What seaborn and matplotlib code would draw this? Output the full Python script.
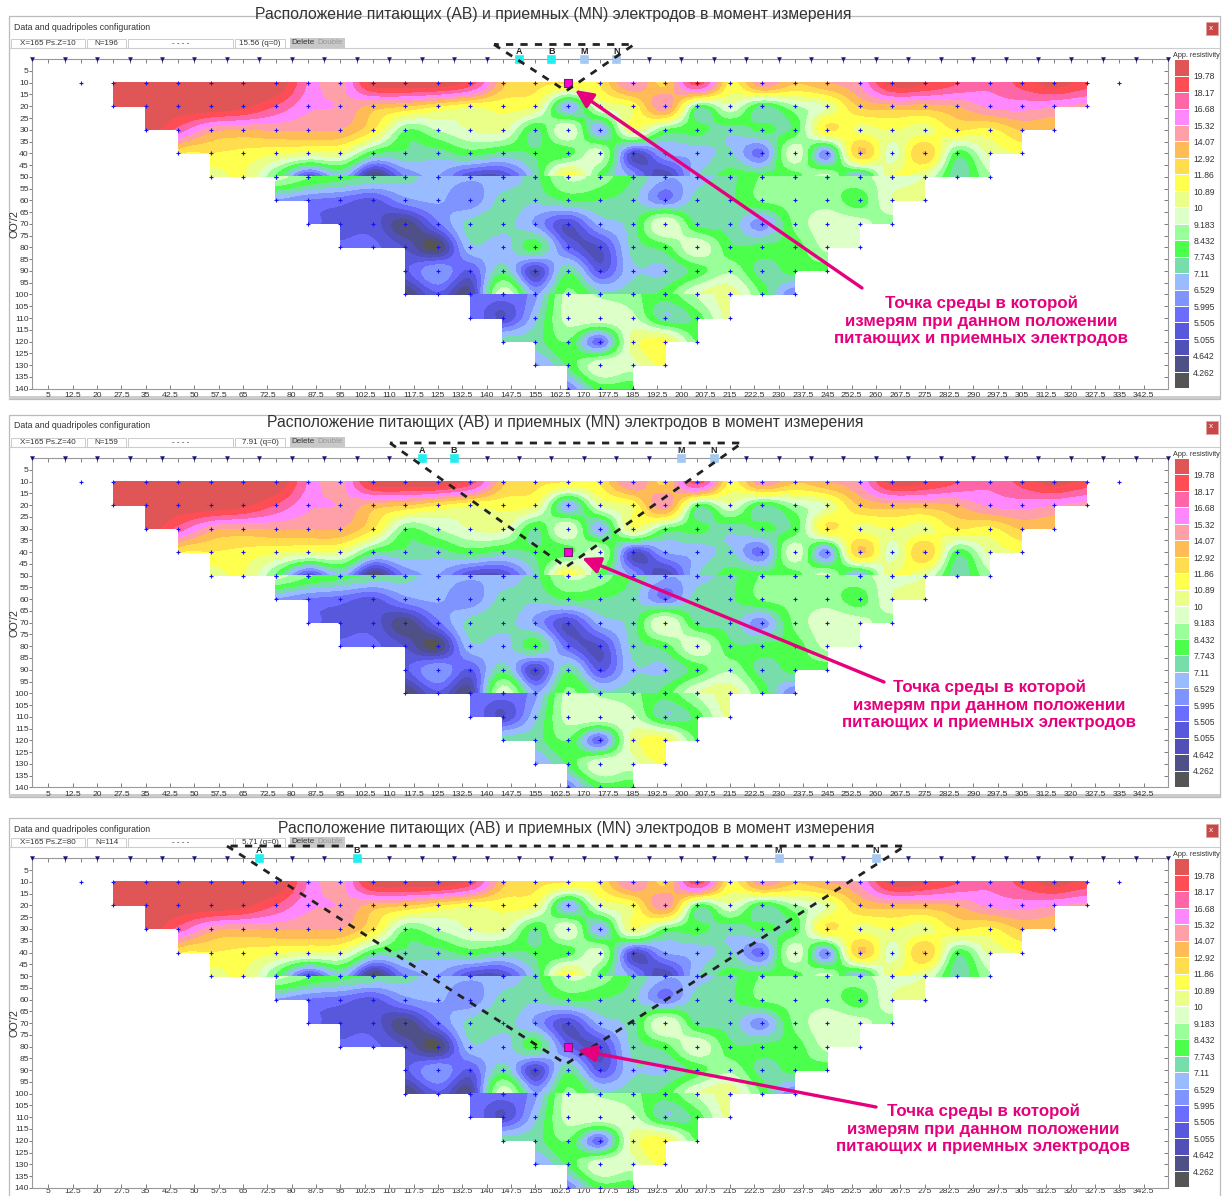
"""
Three pseudosection views with the same resistivity data and different electrode positions
"""
import numpy as np
import pandas as pd
import matplotlib
matplotlib.use('Agg')
import matplotlib.pyplot as plt
from matplotlib.colors import ListedColormap
from matplotlib.patches import Rectangle
import seaborn as sns

W, H = 1223, 1196

# contour classes
LEVELS = [4.262, 4.642, 5.055, 5.505, 5.995, 6.529, 7.11, 7.743, 8.432, 9.183, 10,
          10.89, 11.86, 12.92, 14.07, 15.32, 16.68, 18.17, 19.78]
LEVEL_LABELS = ['4.262', '4.642', '5.055', '5.505', '5.995', '6.529', '7.11', '7.743', '8.432',
                '9.183', '10', '10.89', '11.86', '12.92', '14.07', '15.32', '16.68', '18.17', '19.78']
COLORS = ['#555555', '#505088', '#5050B8', '#5858DC', '#6C6CFF', '#8094FF', '#99BBFF', '#77DDAA',
          '#4DFF4D', '#99FF99', '#DDFFC8', '#EAFF88', '#FFFF4D', '#FFDD4D', '#FFBB55', '#FFA0A8',
          '#FF88FF', '#FF66A8', '#FF4D55', '#E05555']

# apparent resistivity by depth, left to right, x step 10
R10 = [22, 22, 22, 22, 22, 21.5, 16.5, 14.7, 20.5, 21, 21, 19, 13.2, 12.2, 11.9, 12, 15.5, 12.5, 19,
       11.5, 15, 13, 14, 15.3, 20.5, 20, 18.3, 17, 18.7, 20.5, 19]
R20 = [21, 21, 21, 21, 20.2, 18, 15.6, 15.2, 13.5, 12.9, 11.8, 11, 11.2, 10.8, 6.5, 10, 11, 14.8, 8,
       9.8, 7.5, 9, 10, 13, 13.5, 13.5, 14, 15.5, 15.8, 15.3, 14.8]
R30 = [21, 17.5, 14.5, 14, 14.2, 14.1, 14, 11.9, 8.4, 9.2, 10, 10.2, 7.6, 10, 6.5, 10.7, 8.2, 8, 7.3,
       7.9, 7.9, 11.9, 10.6, 10.9, 10.5, 11.9, 11.5, 13, 13]
R40 = [12, 11.8, 11.5, 11, 10.5, 10.4, 7.8, 7.6, 7.4, 8, 7.5, 7.8, 8, 9.5, 5, 6.5, 6.7, 7.2, 5.8, 9.8, 6,
       13, 9.5, 13, 8, 10.2, 11]
R50_UP = [10.5, 10.9, 8.2, 5, 6.8, 4, 6, 6.5, 5, 5, 7.2, 11.5, 8, 6.3, 4.6, 7, 8, 8, 8, 9.5, 6.3, 10.9,
          10, 7.3, 9]
R50_LOW = [9.5, 8.5, 8, 7.6, 7.3, 6.8, 6.6, 6.7, 7.5, 9.3, 8.8, 7.7, 6.6, 6.8, 7.5, 8.5, 8.6, 8.6, 9,
           9.5, 10]
R60 = [6.4, 5.9, 5.7, 5.3, 6.3, 6.6, 6.1, 7.3, 7.2, 7.8, 7.7, 7.3, 5.9, 7.4, 7.6, 8.5, 8.7, 8.9, 8, 10,
       10.2]
R70 = [5.6, 5.4, 5.3, 4.3, 5.8, 7.3, 7.4, 6.4, 5, 6.7, 7.4, 10, 7.5, 7.5, 6.2, 8.6, 9.6, 9.5, 8.7]
R80 = [5.55, 5.6, 5, 4.1, 6.9, 6.7, 8, 5.6, 5, 7.3, 8, 9.8, 7.9, 7.9, 8, 9.4, 9.4]
R90 = [5.4, 6.5, 5.4, 7.5, 4.8, 7.6, 5.3, 7, 7, 8, 9, 7.4, 8, 7.9]
R100_UP = [4.1, 5.4, 4.4, 9.8, 6.5, 8.6, 7.3, 7.4, 8, 10, 10.5, 8.2, 5.9]
R100_LOW = [6, 5.7, 6.3, 9.5, 9, 8.6, 8, 9.3, 10.5]
R110 = [6, 5, 6.9, 9.5, 9.8, 9.4, 7.2, 8, 10.3]
R120 = [7.4, 7.4, 8.4, 5.6, 10.3, 11.2, 8.3]
R130 = [6.4, 7.8, 9.8, 9.6, 11.1]
R140 = [6, 8, 8]

# (depth, first x, values) for each of the three measurement blocks
BLOCKS = [
    [(10, 25, R10), (20, 25, R20), (30, 35, R30), (40, 45, R40), (50, 55, R50_UP)],
    [(50, 75, R50_LOW), (60, 75, R60), (70, 85, R70), (80, 95, R80), (90, 115, R90), (100, 115, R100_UP)],
    [(100, 135, R100_LOW), (110, 135, R110), (120, 145, R120), (130, 155, R130), (140, 165, R140)],
]
EXTRA_POINTS_X = [15, 335]

X_TICKS = [5 + 7.5 * i for i in range(46)]
Y_TICKS = list(range(5, 141, 5))
ELECTRODES_X = list(range(0, 351, 10))
FINE = 6

# every window: status texts, electrodes and the overlay layout in pixels
PANELS = [
    dict(top=59.2, frame=(16, 399), x_pad=2.5, status=('X=165 Ps.Z=10', 'N=196', '15.56 (q=0)'),
         title=(553, 14), z=10, ab=(150, 160), mn=(170, 180),
         dash=(494, 634, 44.5, 91), arrow=((862, 288), (575, 90)), note=(981, 321)),
    dict(top=458.0, frame=(415, 797), x_pad=2.5, status=('X=165 Ps.Z=40', 'N=159', '7.91 (q=0)'),
         title=(565, 423), z=40, ab=(120, 130), mn=(200, 210),
         dash=(390, 742, 443, 567), arrow=((884, 682), (582, 558)), note=(989, 705)),
    dict(top=858.4, frame=(818, 1200), x_pad=0, status=('X=165 Ps.Z=80', 'N=114', '5.71 (q=0)'),
         title=(576, 829), z=80, ab=(70, 100), mn=(230, 260),
         dash=(227, 905, 846, 1064), arrow=((876, 1107), (578, 1050)), note=(983, 1129)),
]
TITLE = 'Расположение питающих (АВ) и приемных (MN) электродов в момент измерения'
NOTE = 'Точка среды в которой\nизмерям при данном положении\nпитающих и приемных электродов'
MAGENTA = '#E6007E'
GRID_BLUE = '#1212FF'
TEXT_GRAY = '#333333'

sns.set_theme(style='white')
plt.rcParams['font.family'] = ['Liberation Sans', 'DejaVu Sans']


def block_grid(block):
    """Put one block of rows on a regular grid, nan where nothing was measured"""
    xs = np.arange(25, 326, 10)
    depths = np.array([row[0] for row in block], dtype=float)
    grid = np.full((len(block), len(xs)), np.nan)
    for i, (_, first_x, values) in enumerate(block):
        start = (first_x - 25) // 10
        grid[i, start:start + len(values)] = values
    return xs.astype(float), depths, grid


def pad_missing(grid):
    """Extend values over unmeasured nodes, only so the smoothing kernel has neighbours"""
    filled = grid.copy()
    while np.isnan(filled).any():
        stack = np.stack([np.pad(filled, 1, constant_values=np.nan)[1 + dy:1 + dy + filled.shape[0],
                                                                    1 + dx:1 + dx + filled.shape[1]]
                          for dy, dx in ((0, 1), (0, -1), (1, 0), (-1, 0))])
        count = np.sum(~np.isnan(stack), axis=0)
        total = np.nansum(stack, axis=0)
        fresh = np.isnan(filled) & (count > 0)
        filled[fresh] = total[fresh] / count[fresh]
    return filled


def smooth_1d(values, factor):
    """Catmull-Rom curve through the values, it passes through each of them"""
    n = len(values)
    pos = np.linspace(0, n - 1, (n - 1) * factor + 1)
    i = np.clip(np.floor(pos).astype(int), 0, n - 2)
    t = pos - i
    p0 = values[np.clip(i - 1, 0, n - 1)]
    p1 = values[i]
    p2 = values[i + 1]
    p3 = values[np.clip(i + 2, 0, n - 1)]
    return 0.5 * (2 * p1 + (p2 - p0) * t + (2 * p0 - 5 * p1 + 4 * p2 - p3) * t ** 2
                  + (3 * p1 - p0 - 3 * p2 + p3) * t ** 3)


def fine_surface(block):
    """Surface for the contour drawing, the same staircase outline as the measured cells"""
    xs, depths, grid = block_grid(block)
    filled = pad_missing(grid)
    fine = np.apply_along_axis(smooth_1d, 1, filled, FINE)
    fine = np.apply_along_axis(smooth_1d, 0, fine, FINE)
    fine_x = np.linspace(xs[0], xs[-1], (len(xs) - 1) * FINE + 1)
    fine_z = np.linspace(depths[0], depths[-1], (len(depths) - 1) * FINE + 1)
    keep = np.zeros_like(fine, dtype=bool)
    for r in range(grid.shape[0] - 1):
        for c in range(grid.shape[1] - 1):
            if not np.isnan(grid[r:r + 2, c:c + 2]).any():
                keep[r * FINE:(r + 1) * FINE + 1, c * FINE:(c + 1) * FINE + 1] = True
    return fine_x, fine_z, np.ma.array(fine, mask=~keep)


def points_table():
    rows = [(first_x + 10 * i, depth) for block in BLOCKS
            for depth, first_x, values in block for i in range(len(values))]
    rows += [(x, 10) for x in EXTRA_POINTS_X]
    return pd.DataFrame(rows, columns=['x', 'z'])


def add_px_axes(fig, left, top, right, bottom):
    return fig.add_axes([left / W, 1 - bottom / H, (right - left) / W, (bottom - top) / H])


SURFACES = [fine_surface(block) for block in BLOCKS]


def draw_section(fig, panel):
    top = panel['top']
    ax = add_px_axes(fig, 32.2, top, 1168.0, top + 329.4)
    levels = [0] + LEVELS + [100]
    for fine_x, fine_z, fine in SURFACES:
        ax.contourf(fine_x, fine_z, fine, levels=levels, colors=COLORS, corner_mask=False)

    sns.scatterplot(data=points_table(), x='x', y='z', marker='+', s=9, color=GRID_BLUE,
                    linewidth=0.8, ax=ax, legend=False, zorder=4)
    electrodes = pd.DataFrame({'x': ELECTRODES_X, 'z': 0})
    sns.scatterplot(data=electrodes, x='x', y='z', marker='v', s=9, color='#10107A',
                    edgecolor='#10107A', ax=ax, legend=False, clip_on=False, zorder=5)

    for xs, color in ((panel['ab'], '#22EEEE'), (panel['mn'], '#A4C8F0')):
        sns.scatterplot(x=list(xs), y=[0, 0], marker='s', s=30, color=color, edgecolor=color,
                        ax=ax, legend=False, clip_on=False, zorder=6)
    for x, name in zip(panel['ab'] + panel['mn'], 'ABMN'):
        ax.text(x, -3.2, name, ha='center', va='center', fontsize=6.5, color='#222222', fontweight='bold')
    sns.scatterplot(x=[165], y=[panel['z']], marker='s', s=30, color='#FF00D0', edgecolor='#702070',
                    linewidth=0.8, ax=ax, legend=False, zorder=7)

    ax.set_xlim(0, 350)
    ax.set_ylim(140, 0)
    ax.set_xticks(X_TICKS)
    ax.set_xticklabels([f'{t:g}' for t in X_TICKS])
    ax.set_yticks(Y_TICKS)
    ax.set_yticklabels([str(t) for t in Y_TICKS])
    ax.tick_params(axis='x', bottom=True, direction='in', length=3, width=0.6, color='#666666',
                   labelsize=6.1, labelcolor=TEXT_GRAY, pad=panel['x_pad'])
    ax.tick_params(axis='y', left=True, direction='out', length=2, width=0.6, color='#666666',
                   labelsize=6.1, labelcolor=TEXT_GRAY, pad=0.5)
    ax.set_xlabel('')
    ax.set_ylabel("OO'/2", fontsize=7.8, color=TEXT_GRAY, va='center')
    ax.yaxis.set_label_coords(-0.0158, 0.5)
    for side in ax.spines:
        ax.spines[side].set_color('#999999')
        ax.spines[side].set_linewidth(0.8)

    # small top ticks and right hand ticks of the same scale
    top_ax = ax.secondary_xaxis('top')
    top_ax.set_xticks(range(0, 351, 5))
    top_ax.set_xticklabels([])
    top_ax.tick_params(direction='in', length=3, width=0.6, color='#666666')
    top_ax.spines['top'].set_visible(False)
    right_ax = ax.secondary_yaxis('right')
    right_ax.set_yticks(Y_TICKS)
    right_ax.set_yticklabels([])
    right_ax.tick_params(direction='in', length=3, width=0.6, color='#666666')
    right_ax.spines['right'].set_visible(False)
    return ax


def draw_colorbar(fig, panel):
    top = panel['top']
    cax = add_px_axes(fig, 1173.5, top, 1188.5, top + 329.0)
    cells = np.arange(len(COLORS))[::-1].reshape(-1, 1)
    sns.heatmap(cells, cmap=ListedColormap(COLORS), cbar=False, linewidths=0.6, linecolor='white',
                xticklabels=False, yticklabels=False, ax=cax)
    step = 329.0 / len(COLORS)
    for i, label in enumerate(LEVEL_LABELS[::-1]):
        y = (i + 1) * step / 329.0
        cax.text(1.32, 1 - y - 0.004, label, transform=cax.transAxes, fontsize=6.2, color=TEXT_GRAY,
                 ha='left', va='center')
    cax.text(-0.05, 1.012, 'App. resistivity', transform=cax.transAxes, fontsize=5.2, color=TEXT_GRAY,
             ha='left', va='center', clip_on=False)


def draw_window(over, panel):
    y0, y1 = panel['frame']
    top = panel['top']
    bar = top - 11.5
    over.add_patch(Rectangle((8.5, y0), 1211, y1 - y0, fill=False, ec='#BBBBBB', lw=0.9))
    over.add_patch(Rectangle((8.5, y1 - 3), 1211, 3, fc='#CCCCCC', ec='none'))
    over.plot([9, 1219], [bar, bar], color='#CCCCCC', lw=0.8)
    over.text(14, y0 + 11, 'Data and quadripoles configuration', fontsize=6.3, color=TEXT_GRAY,
              ha='left', va='center')
    over.add_patch(Rectangle((1205.5, y0 + 6), 12, 12.5, fc='#C84848', ec='#E0A0A0', lw=0.6))
    over.text(1211.5, y0 + 12, 'x', fontsize=6, color='white', ha='center', va='center')

    # status boxes
    status = panel['status']
    boxes = [(11, 85, status[0]), (87, 126, status[1]), (128, 233, '- - - -'), (235, 285, status[2])]
    for x0, x1, label in boxes:
        over.add_patch(Rectangle((x0, bar - 9), x1 - x0, 9, fc='white', ec='#CCCCCC', lw=0.7))
        over.text((x0 + x1) / 2, bar - 4.5, label, fontsize=5.8, color=TEXT_GRAY, ha='center', va='center')
    over.add_patch(Rectangle((290, bar - 10), 55, 10, fc='#C8C8C8', ec='none'))
    over.text(303, bar - 5, 'Delete', fontsize=5.8, color='#333333', ha='center', va='center')
    over.text(330, bar - 5, 'Double', fontsize=5.8, color='#999999', ha='center', va='center')


def draw_overlay(over, panel):
    x_left, x_right, y_top, y_apex = panel['dash']
    over.plot([x_left, 566, x_right, x_left], [y_top, y_apex, y_top, y_top], color='#222222', lw=2.0,
              ls=(0, (2.6, 2.6)), zorder=8)
    tail, tip = panel['arrow']
    over.annotate('', xy=tip, xytext=tail, zorder=9,
                  arrowprops=dict(arrowstyle='-|>,head_length=0.9,head_width=0.42', color=MAGENTA, lw=2.4,
                                  shrinkA=0, shrinkB=0))
    note_x, note_y = panel['note']
    over.text(note_x, note_y, NOTE, color=MAGENTA, fontsize=12.2, fontweight='bold', ha='center',
              va='center', linespacing=1.22, zorder=9)
    title_x, title_y = panel['title']
    over.text(title_x, title_y, TITLE, fontsize=11.35, color='#333333', ha='center', va='center', zorder=9)


fig = plt.figure(figsize=(W / 100, H / 100), dpi=100)
over_back = fig.add_axes([0, 0, 1, 1])
over_back.set_xlim(0, W)
over_back.set_ylim(H, 0)
over_back.axis('off')
for panel in PANELS:
    draw_window(over_back, panel)
    draw_section(fig, panel)
    draw_colorbar(fig, panel)

over = fig.add_axes([0, 0, 1, 1], zorder=20)
over.patch.set_alpha(0)
over.set_xlim(0, W)
over.set_ylim(H, 0)
over.axis('off')
for panel in PANELS:
    draw_overlay(over, panel)

fig.savefig('out.png', dpi=100)
